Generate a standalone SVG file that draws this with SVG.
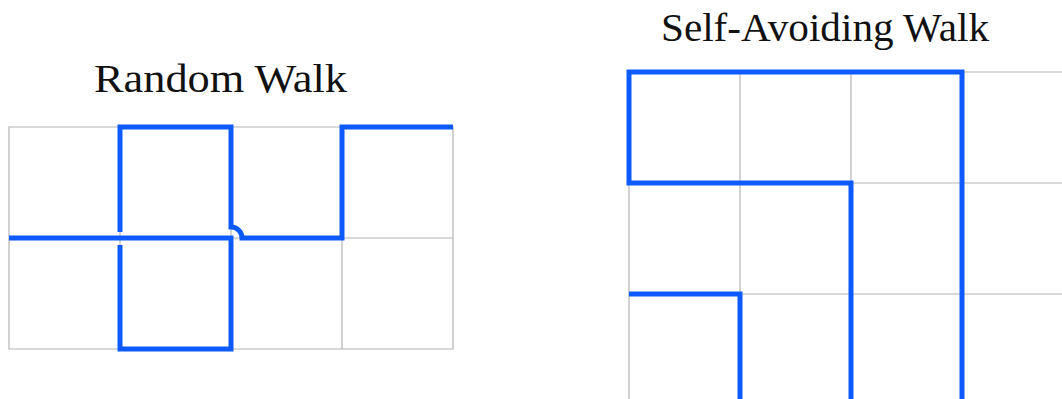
<svg xmlns="http://www.w3.org/2000/svg" width="1062" height="399" viewBox="0 0 1062 399">
<style>
.grid{fill:none;stroke:#b4b4b4;stroke-width:1.2}
.walk{fill:none;stroke:#0d5bff;stroke-width:5;stroke-linecap:butt;stroke-linejoin:miter}
.title{font-family:"Liberation Serif","DejaVu Serif",serif;font-size:40px;fill:#111}
</style>
<rect width="1062" height="399" fill="#fff"/>
<g id="random-walk">
<text class="title" x="94" y="92" textLength="253" lengthAdjust="spacingAndGlyphs">Random Walk</text>
<path class="grid" d="M9,127H453V349H9Z M9,238H453 M120,127V349 M231,127V349 M342,127V349"/>
</g>
<g id="self-avoiding-walk">
<text class="title" x="661" y="41" textLength="328" lengthAdjust="spacingAndGlyphs">Self-Avoiding Walk</text>
<path class="grid" d="M629,72H1062 M629,183H1062 M629,294H1062 M629,72V399 M740,72V399 M851,72V399 M962,72V399"/>
</g>
<g id="connectors">
<path class="walk" d="M9,238H231V349H120V245"/>
<path class="walk" d="M120,232V127H231V227A11,11 0 0 1 242,238H342V127H453"/>
<path class="walk" d="M740,399V294H629"/>
<path class="walk" d="M851,399V183H629V72H962V399"/>
</g>
</svg>
